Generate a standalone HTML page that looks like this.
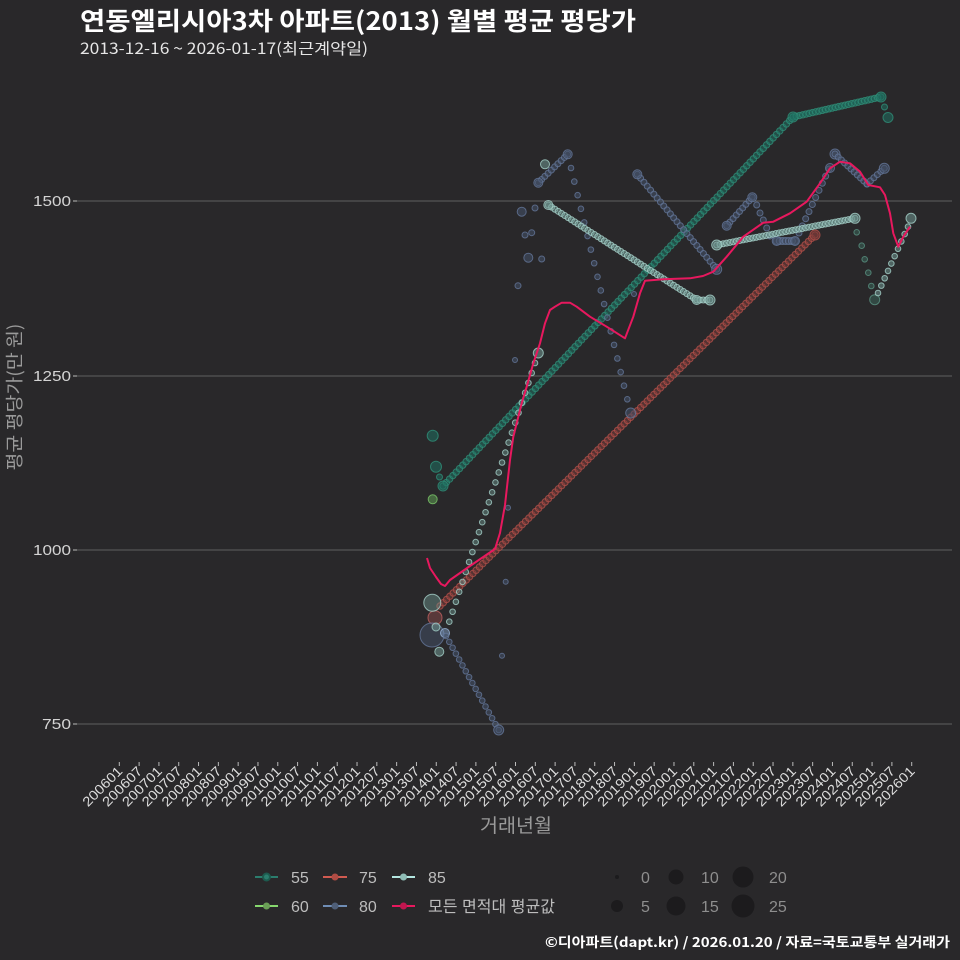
<!DOCTYPE html>
<html><head><meta charset="utf-8">
<style>
html,body{margin:0;padding:0;background:#29282a;}
svg{display:block;}
text{font-family:"Liberation Sans","Noto Sans CJK KR",sans-serif;}
</style></head>
<body>
<svg id="s" width="960" height="960" viewBox="0 0 960 960" xmlns="http://www.w3.org/2000/svg">
<rect width="960" height="960" fill="#29282a"/>
<text x="80" y="30" font-size="25" font-weight="bold" fill="#ffffff" textLength="556" lengthAdjust="spacingAndGlyphs" style="font-family:'Noto Sans CJK KR',sans-serif">연동엘리시아3차 아파트(2013) 월별 평균 평당가</text>
<text x="80" y="54" font-size="15.5" fill="#e6e6e6" textLength="288" lengthAdjust="spacingAndGlyphs" style="font-family:'Noto Sans CJK KR',sans-serif">2013-12-16 ~ 2026-01-17(최근계약일)</text>
<g stroke="#606060" stroke-width="1.1">
<line x1="77" y1="201" x2="952" y2="201"/>
<line x1="77" y1="376" x2="952" y2="376"/>
<line x1="77" y1="550" x2="952" y2="550"/>
<line x1="77" y1="724" x2="952" y2="724"/>
</g>
<g stroke="#bbbbbb" stroke-width="1">
<line x1="73" y1="201" x2="77" y2="201"/>
<line x1="73" y1="376" x2="77" y2="376"/>
<line x1="73" y1="550" x2="77" y2="550"/>
<line x1="73" y1="724" x2="77" y2="724"/>
</g>
<g font-size="15" fill="#d4d4d4" text-anchor="end">
<text x="71" y="206" textLength="38" lengthAdjust="spacingAndGlyphs">1500</text>
<text x="71" y="381" textLength="38" lengthAdjust="spacingAndGlyphs">1250</text>
<text x="71" y="555" textLength="38" lengthAdjust="spacingAndGlyphs">1000</text>
<text x="71" y="729" textLength="29" lengthAdjust="spacingAndGlyphs">750</text>
</g>
<text transform="translate(21,397) rotate(-90)" font-size="18" fill="#9a9a9a" text-anchor="middle" textLength="147" lengthAdjust="spacingAndGlyphs" style="font-family:'Noto Sans CJK KR',sans-serif">평균 평당가(만 원)</text>
<g id="xt"></g>
<text x="516" y="832" font-size="19" fill="#9a9a9a" text-anchor="middle" textLength="72" lengthAdjust="spacingAndGlyphs" style="font-family:'Noto Sans CJK KR',sans-serif">거래년월</text>
<g id="data"></g>
<!-- legend -->
<g stroke-width="2">
<line x1="255" y1="877" x2="278" y2="877" stroke="#2b7d6d"/><circle cx="266.5" cy="877" r="3.5" fill="#2b7d6d" stroke="#1d5a4e"/>
<line x1="323" y1="877" x2="347" y2="877" stroke="#d05a50"/><circle cx="335" cy="877" r="3.5" fill="#b04c44"/>
<line x1="392" y1="877" x2="415" y2="877" stroke="#b3e6e0"/><circle cx="403.5" cy="877" r="3.5" fill="#8fbdb6"/>
<line x1="255" y1="906" x2="278" y2="906" stroke="#86d86e"/><circle cx="266.5" cy="906" r="3.5" fill="#6a9e56"/>
<line x1="323" y1="906" x2="347" y2="906" stroke="#6f8db5"/><circle cx="335" cy="906" r="3.5" fill="#4f5f78"/>
<line x1="392" y1="906" x2="415" y2="906" stroke="#e8185e"/><circle cx="403.5" cy="906" r="3.5" fill="#c0164f"/>
</g>
<g font-size="16" fill="#bdbdbd" style="font-family:'Noto Sans CJK KR',sans-serif">
<text x="291" y="883">55</text><text x="359" y="883">75</text><text x="428" y="883">85</text>
<text x="291" y="912">60</text><text x="359" y="912">80</text><text x="428" y="912" textLength="127" lengthAdjust="spacingAndGlyphs">모든 면적대 평균값</text>
</g>
<g fill="#1c1b1d">
<circle cx="617" cy="877" r="2"/><circle cx="676" cy="877" r="7.5"/><circle cx="743" cy="877" r="10.5"/>
<circle cx="617" cy="906" r="6"/><circle cx="676" cy="906" r="9.5"/><circle cx="743" cy="906" r="11.5"/>
</g>
<g font-size="16" fill="#8e8e8e">
<text x="641" y="883">0</text><text x="701" y="883">10</text><text x="769" y="883">20</text>
<text x="641" y="912">5</text><text x="701" y="912">15</text><text x="769" y="912">25</text>
</g>
<text x="950" y="947" font-size="13.5" font-weight="bold" fill="#ffffff" text-anchor="end" textLength="405" lengthAdjust="spacingAndGlyphs" style="font-family:'Noto Sans CJK KR',sans-serif">©디아파트(dapt.kr) / 2026.01.20 / 자료=국토교통부 실거래가</text>
</svg>
<script>
(function(){
var NS="http://www.w3.org/2000/svg";
var xt=document.getElementById('xt'), g=document.getElementById('data');
function el(p,tag,a){var e=document.createElementNS(NS,tag);for(var k in a)e.setAttribute(k,a[k]);p.appendChild(e);return e;}
// x ticks
for(var i=0;i<=40;i++){
  var x=119.3+i*19.81; var yr=2006+Math.floor(i/2); var lab=yr+(i%2?"07":"01");
  el(xt,'line',{x1:x,y1:762,x2:x,y2:766,stroke:'#bbbbbb','stroke-width':1});
  var t=el(xt,'text',{x:0,y:0,'font-size':13.5,fill:'#dddddd','text-anchor':'end',textLength:50,lengthAdjust:'spacingAndGlyphs',transform:'translate('+(x+4)+',772) rotate(-45)'});
  t.textContent=lab;
}
var C={
 s55:{f:'#1f6f60',s:'#2f8e78'},
 s60:{f:'#5f9a52',s:'#7cc86a'},
 s75:{f:'#7a3a38',s:'#b4504a'},
 s80:{f:'#46526a',s:'#64779a'},
 s85:{f:'#6f9690',s:'#a6d2ca'},
 s55b:{f:'#3e6e62',s:'#5a9282'}
};
function dot(x,y,r,c,op){el(g,'circle',{cx:x,cy:y,r:r,fill:c.f,'fill-opacity':op||0.55,stroke:c.s,'stroke-opacity':0.8,'stroke-width':1});}
function chain(x1,y1,x2,y2,c,r,n,op){
  if(!n) n=Math.max(1,Math.round(Math.abs(x2-x1)/3.302));
  for(var i=0;i<=n;i++){var t=i/n;dot(x1+(x2-x1)*t,y1+(y2-y1)*t,r||3,c,op);}
}
// 55
dot(432.7,435.7,5.5,C.s55);dot(436,466.7,5.5,C.s55);dot(439.5,477,3,C.s55);
chain(443,486,793,117,C.s55,3.2);chain(793,117,881,97,C.s55,3.2);
dot(443,486,5,C.s55);dot(793,117,5,C.s55);dot(881,97,5,C.s55);
dot(884.5,107,3,C.s55);dot(888,117.5,5,C.s55);
var dd=[[856.7,232.3],[861.7,245.7],[864.7,259.3],[868.3,272.7],[871.3,286]];
dd.forEach(function(p){dot(p[0],p[1],2.8,C.s55b,0.45);});dot(874.7,299.7,5,C.s55b,0.45);
// 60
dot(432.7,499.3,4.5,C.s60);
// 75
chain(440,606,815,235,C.s75,3.2);dot(815,235,5,C.s75);
dot(435,617.7,7,{f:'#8a4a4a',s:'#c06060'},0.5);
// 80
dot(432,635,12,C.s80,0.5);dot(445,633,4.5,{f:'#7a95b8',s:'#9ab5d8'});
chain(446,636,498.7,730,C.s80,2.8,16);dot(498.7,730,5,C.s80);
[[508,507.7,2.5],[505.7,581.7,2.5],[502,655.7,2.5],[515,360,2.5],[518,285.7,3],[521.7,211.7,4.5],[525,235,3],[531.7,232.7,3],[528.3,257.7,4.5],[535,208,3],[541.7,259,3],[634,294,2.5]].forEach(function(p){dot(p[0],p[1],p[2],C.s80);});
chain(538.3,182.7,567.7,154.3,C.s80,3);dot(538.3,182.7,4.5,C.s80);dot(567.7,154.3,4.5,C.s80);
chain(571,168,627.3,399.3,C.s80,2.8,17);dot(630.7,413,5,C.s80);
chain(637.3,174.3,716.7,269.3,C.s80,3);dot(637.3,174.3,4.5,C.s80);dot(716.7,269.3,5,C.s80);
chain(726.7,225.7,752.3,197.3,C.s80,3);dot(726.7,225.7,4.5,C.s80);dot(752.3,197.3,4.5,C.s80);
[[756.7,205],[760,213],[763.3,220],[766.7,228],[770,236]].forEach(function(p){dot(p[0],p[1],3,C.s80);});
chain(776.7,241,795,241,C.s80,3.5);dot(776.7,241,4.5,C.s80);dot(795,241,4.5,C.s80);
chain(799,233,829,169,C.s80,3,9);dot(830,168,4.5,C.s80);dot(835,154,5,C.s80);
chain(835,154,867,184,C.s80,3);chain(867,184,884.3,168.3,C.s80,3);dot(884.3,168.3,5,C.s80);
// 85
dot(432.3,602.7,8.5,C.s85,0.45);dot(436,627,4,C.s85);dot(439.3,651.7,4.5,C.s85);
chain(449.3,621.7,535,363,C.s85,2.8,26,0.45);dot(538.3,353,5,C.s85);
dot(545,164.3,4.5,C.s85);
chain(548.3,205,696.7,300,C.s85,3);chain(696.7,300,710,300,C.s85,3);
dot(548.3,205,4.5,C.s85);dot(696.7,300,4.5,C.s85);dot(710,300,5,C.s85);
chain(716.7,245,855,218.3,C.s85,3);dot(716.7,245,5,C.s85);dot(855,218.3,5,C.s85);
chain(878,293,908,226.7,C.s85,2.8,9);dot(911,218.3,5,C.s85);
// average line
var pts=[[427,558],[430,568],[436,577],[441,584],[445,586],[450,580],[470,566],[495,549],[500,533],[505,505],[510,460],[513.3,436.7],[521.7,403.3],[526.7,386.7],[533.3,363.3],[540,343.3],[545,323.3],[550,310],[555,306.7],[561.7,302.7],[570,302.7],[576.7,306.7],[590,316.7],[606.7,326.7],[625,338.3],[633.3,316.7],[640,293.3],[645,280.7],[663.3,279.3],[690,278.3],[703,276],[713.3,271.7],[726.7,256.7],[743.3,236.7],[763.3,222.7],[773.3,221.7],[790,213.3],[806.7,201.7],[820,183.3],[830,168.3],[840,161.7],[850,163.3],[860,171.7],[868.3,185],[880,187.3],[885,195],[890,213.3],[893.3,233.3],[898.3,246.7],[903.3,236.7],[910,226.7]];
el(g,'polyline',{points:pts.map(function(p){return p.join(',');}).join(' '),fill:'none',stroke:'#e8185e','stroke-width':2,'stroke-linejoin':'round'});
})();
</script>
</body></html>
